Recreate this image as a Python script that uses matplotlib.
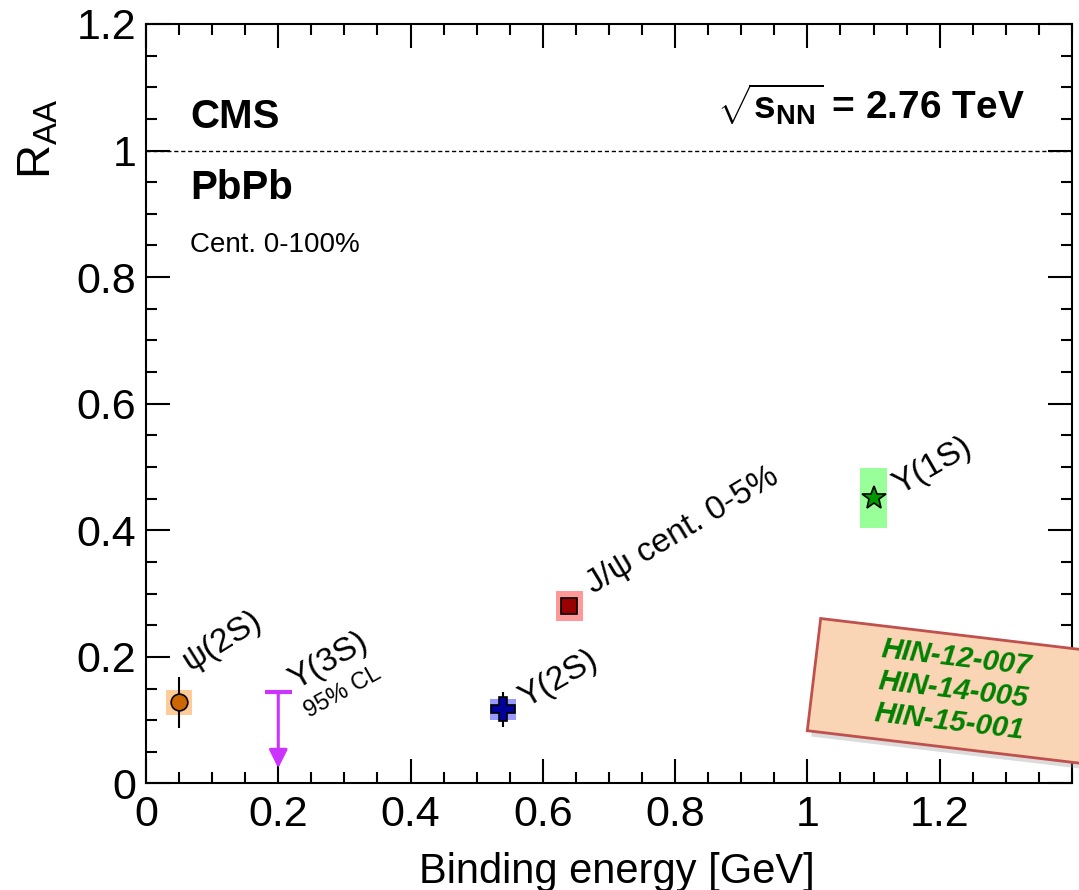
import matplotlib
matplotlib.use("Agg")
import matplotlib.pyplot as plt
import matplotlib.patches as mpatches
import matplotlib.transforms as mtransforms
from matplotlib.ticker import MultipleLocator

plt.rcParams['font.family'] = ['Liberation Sans', 'DejaVu Sans']
plt.rcParams['mathtext.fontset'] = 'custom'
plt.rcParams['mathtext.rm'] = 'Liberation Sans'
plt.rcParams['mathtext.it'] = 'Liberation Sans:italic'
plt.rcParams['mathtext.bf'] = 'Liberation Sans:bold'

# measured states: binding energy [GeV], R_AA, stat and syst uncertainties
names = ["ψ(2S)", "Υ(2S)", "J/ψ cent. 0-5%", "Υ(1S)"]
ebind = [0.05, 0.54, 0.64, 1.10]
raa = [0.128, 0.117, 0.28, 0.451]
stat = [0.04, 0.0275, 0.01, 0.01]
syst = [0.02, 0.016, 0.024, 0.048]

# Y(3S) upper limit (95% CL)
ups3s_ebind = 0.20
ups3s_limit = 0.145

# styles
markers = ['o', 'P', 's', '*']
msizes = [12, 17, 11.5, 18]
mcolors = ['#cc6600', '#000099', '#990000', '#009900']
boxcolors = ['#ffcc99', '#9999ff', '#ff9999', '#99ff99']
label_pos = [(0.066, 0.178), (0.574, 0.120), (0.676, 0.300), (1.140, 0.456)]
label_rot = [32, 30, 31, 30]
box_hw = 0.02
lim_color = '#cc33ff'

fig = plt.figure(figsize=(10.79, 8.9), dpi=100)
ax = fig.add_axes([0.1353, 0.1197, 0.8582, 0.8534])

for i in range(len(ebind)):
    ax.bar(ebind[i], 2 * syst[i], bottom=raa[i] - syst[i], width=2 * box_hw,
           color=boxcolors[i], linewidth=0, zorder=2)
    ax.errorbar(ebind[i], raa[i], yerr=stat[i], fmt='none', ecolor='k',
                elinewidth=1.5, capsize=0, zorder=3)
    ax.plot(ebind[i], raa[i], marker=markers[i], ms=msizes[i],
            mfc=mcolors[i], mec='k', mew=1.2, ls='none', zorder=4)
    ax.text(label_pos[i][0], label_pos[i][1], names[i], rotation=label_rot[i],
            rotation_mode='anchor', ha='left', va='baseline', fontsize=24)

# upper limit arrow
ax.hlines(ups3s_limit, ups3s_ebind - box_hw, ups3s_ebind + box_hw,
          color=lim_color, lw=3, zorder=3)
ax.annotate('', xy=(ups3s_ebind, 0.024), xytext=(ups3s_ebind, ups3s_limit),
            arrowprops=dict(arrowstyle='-|>', color=lim_color, lw=2.2,
                            mutation_scale=28, shrinkA=0, shrinkB=0))
ax.text(0.226, 0.148, "Υ(3S)", rotation=30, rotation_mode='anchor',
        ha='left', va='baseline', fontsize=24)
ax.text(0.246, 0.104, "95% CL", rotation=29, rotation_mode='anchor',
        ha='left', va='baseline', fontsize=17)

ax.axhline(1.0, color='k', ls=(0, (3, 2)), lw=1, zorder=1)

ax.set_xlim(0, 1.4)
ax.set_ylim(0, 1.2)
ax.xaxis.set_minor_locator(MultipleLocator(0.05))
ax.yaxis.set_minor_locator(MultipleLocator(0.05))
ax.set_xticks([0, 0.2, 0.4, 0.6, 0.8, 1.0, 1.2])
ax.set_xticklabels(['0', '0.2', '0.4', '0.6', '0.8', '1', '1.2'])
ax.set_yticks([0, 0.2, 0.4, 0.6, 0.8, 1.0, 1.2])
ax.set_yticklabels(['0', '0.2', '0.4', '0.6', '0.8', '1', '1.2'])
ax.tick_params(which='both', direction='in', top=True, right=True, width=1.5)
ax.tick_params(which='major', length=17, labelsize=31)
ax.tick_params(axis='x', which='major', pad=8)
ax.tick_params(axis='y', which='major', pad=7)
ax.tick_params(which='minor', length=8)
for sp in ax.spines.values():
    sp.set_linewidth(1.5)

ax.set_xlabel("Binding energy [GeV]", fontsize=30)
ax.xaxis.set_label_coords(0.508, -0.09)
fig.text(0.036, 1 - 98 / 890, r"R$_{\mathrm{AA}}$", fontsize=34,
         rotation=90, ha='center', va='top')

ax.text(0.0475, 0.863, "CMS", transform=ax.transAxes, fontsize=29,
        fontweight='bold', va='baseline')
ax.text(0.0475, 0.7696, "PbPb", transform=ax.transAxes, fontsize=29,
        fontweight='bold', va='baseline')
ax.text(0.0475, 0.700, "Cent. 0-100%", transform=ax.transAxes, fontsize=20,
        va='baseline')
fig.text(0.95, 0.866, r"$\sqrt{\mathbf{s}_{\mathbf{NN}}}$ = 2.76 TeV",
         fontsize=28, fontweight='bold', ha='right', va='baseline')

# publication tag box
rot = mtransforms.Affine2D().rotate_deg_around(8.073, 1.593, -6.8) + fig.dpi_scale_trans
shadow = mpatches.Rectangle((8.12, 1.54), 2.9, 1.13, facecolor='#888888',
                            alpha=0.3, edgecolor='none', transform=rot)
tag = mpatches.Rectangle((8.073, 1.593), 2.9, 1.13, facecolor='#fad5b5',
                         edgecolor='#c0504d', lw=2, transform=rot)
fig.add_artist(shadow)
fig.add_artist(tag)
fig.text(9.53, 2.0, "HIN-12-007\nHIN-14-005\nHIN-15-001",
         transform=fig.dpi_scale_trans, rotation=-6.8, ha='center',
         va='center', multialignment='center', fontsize=21,
         fontweight='bold', fontstyle='italic', color='#008000',
         linespacing=1.2)

fig.savefig("out.png", dpi=100)
